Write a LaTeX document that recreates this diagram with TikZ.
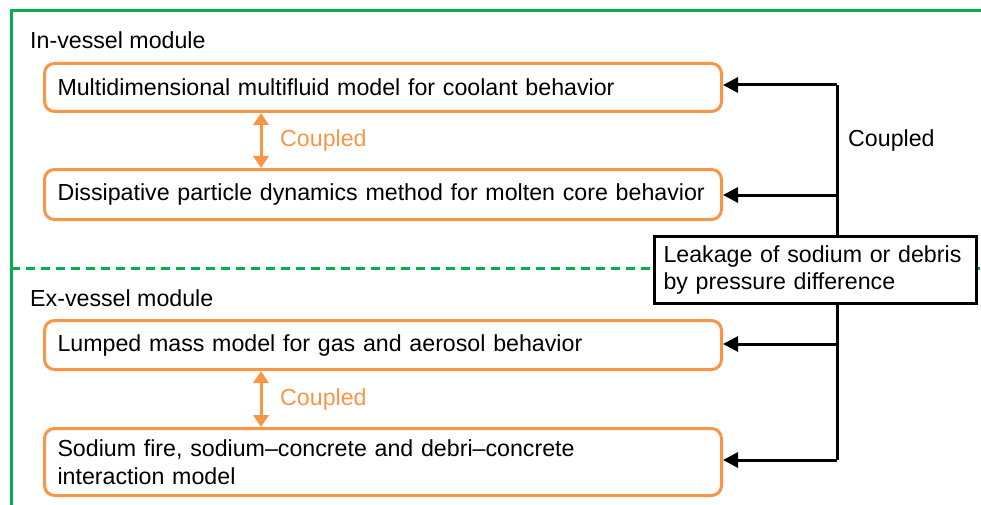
\documentclass[tikz,border=0pt]{standalone}
\usepackage{fontspec}
\setmainfont{Liberation Sans}
\usetikzlibrary{arrows.meta}
\definecolor{grn}{RGB}{0,176,80}
\definecolor{org}{RGB}{247,150,70}
\begin{document}
\begin{tikzpicture}[x=1pt,y=-1pt,
  txt/.style={font=\fontsize{23.2}{27.5}\selectfont},
  modbox/.style={txt,draw=org,line width=3pt,rounded corners=10pt,minimum width=677pt,text width=651pt,align=left,inner xsep=13pt,anchor=north west},
  lbl/.style={txt,inner sep=0pt},
  blk/.style={line width=3pt,-{Triangle[length=15pt,width=15pt]}},
  obl/.style={draw=org,line width=3pt,{Triangle[length=12pt,width=15pt]}-{Triangle[length=12pt,width=15pt]}}]
\useasboundingbox (0,0) rectangle (981,505);
% green frame
\draw[grn,line width=3pt] (11,505) -- (11,11) -- (981,11);
\draw[grn,line width=3pt,dash pattern=on 9pt off 6pt] (11,268) -- (981,268);
% module labels
\node[lbl,anchor=west] (inv) at (30,40) {In-vessel module};
\node[lbl,anchor=west] (exv) at (30,298) {Ex-vessel module};
% boxes
\node[modbox,minimum height=48pt] (b1) at (43,62) {Multidimensional multifluid model for coolant behavior};
\node[modbox,minimum height=50pt] (b2) at (43,168) {Dissipative particle dynamics method for molten core behavior};
\node[modbox,minimum height=49pt] (b3) at (43,319) {Lumped mass model for gas and aerosol behavior};
\node[modbox,minimum height=67pt] (b4) at (43,427) {Sodium fire, sodium--concrete and debri--concrete\\interaction model};
% orange couplings
\draw[obl] (b1.south -| 261,0) -- (b2.north -| 261,0);
\node[lbl,text=org,anchor=west] (c1) at (280,141) {Coupled};
\draw[obl] (b3.south -| 261,0) -- (b4.north -| 261,0);
\node[lbl,text=org,anchor=west] (c2) at (280,399) {Coupled};
% leakage
\coordinate (top) at (837,85);
\coordinate (bot) at (837,460);
\node[txt,draw,line width=3pt,fill=white,align=left,anchor=north west,minimum width=322pt,minimum height=67pt,text width=304pt,inner xsep=9pt] (leak) at (653,235) {Leakage of sodium or debris\\by pressure difference};
\draw[line width=3pt] (top) -- (leak.north -| top);
\draw[line width=3pt] (leak.south -| bot) -- (bot);
\draw[blk] (top) -- (b1.east |- top);
\draw[blk] (837,195) coordinate (m2) -- (b2.east |- m2);
\draw[blk] (837,344) coordinate (m3) -- (b3.east |- m3);
\draw[blk,line join=round] (bot) -- (b4.east |- bot);
\node[lbl,anchor=west] (cp) at (848,141) {Coupled};
\end{tikzpicture}
\end{document}
